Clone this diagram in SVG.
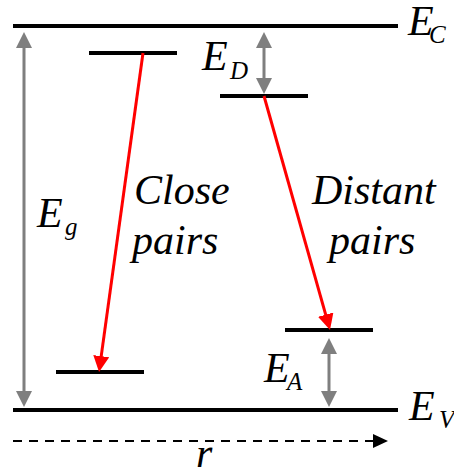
<svg xmlns="http://www.w3.org/2000/svg" width="454" height="470" viewBox="0 0 454 470">
<defs>
<marker id="ga" markerUnits="userSpaceOnUse" markerWidth="16" markerHeight="16" refX="6" refY="8" orient="auto-start-reverse">
<path d="M0,0 L16,8 L0,16 z" fill="#7f7f7f"/>
</marker>
<marker id="ra" markerUnits="userSpaceOnUse" markerWidth="16" markerHeight="16" refX="6" refY="8" orient="auto">
<path d="M0,0 L16,8 L0,16 z" fill="#ff0000"/>
</marker>
</defs>
<g id="levels" stroke="#000" stroke-width="4">
<g id="Ec"><line x1="13" y1="26" x2="398" y2="26"/></g>
<g id="Ev"><line x1="13" y1="410" x2="398" y2="410"/></g>
<g id="donor-close"><line x1="89" y1="53" x2="177" y2="53"/></g>
<g id="donor-distant"><line x1="220" y1="96" x2="308" y2="96"/></g>
<g id="acceptor-close"><line x1="56" y1="372" x2="144" y2="372"/></g>
<g id="acceptor-distant"><line x1="285" y1="330" x2="373" y2="330"/></g>
</g>
<g id="connectors" fill="none">
<g stroke="#7f7f7f" stroke-width="3" marker-start="url(#ga)" marker-end="url(#ga)">
<line x1="24" y1="42" x2="24" y2="397"/>
<line x1="264" y1="42" x2="264" y2="84"/>
<line x1="329" y1="348" x2="329" y2="397"/>
</g>
<g stroke="#ff0000" stroke-width="3" marker-end="url(#ra)">
<line x1="143" y1="53" x2="100.4" y2="362.1"/>
<line x1="264" y1="96" x2="327.3" y2="320.4"/>
</g>
<line x1="13" y1="441" x2="374" y2="441" stroke="#000" stroke-width="2" stroke-dasharray="9,7"/>
<path d="M373,434 L388,441 L373,448 z" fill="#000"/>
</g>
<g id="labels" fill="#000">
<g id="EC-label"><text x="408" y="35" font-family="Liberation Serif" font-style="italic" font-size="42">E</text><text x="429" y="43" font-family="Liberation Serif" font-style="italic" font-size="25">C</text></g>
<g id="EV-label"><text x="409" y="420" font-family="Liberation Serif" font-style="italic" font-size="42">E</text><text x="439" y="428" font-family="Liberation Serif" font-style="italic" font-size="25">V</text></g>
<g id="Eg"><text x="37" y="227" font-family="Liberation Serif" font-style="italic" font-size="42">E</text><text x="65" y="235" font-family="Liberation Serif" font-style="italic" font-size="25">g</text></g>
<g id="ED"><text x="202" y="70" font-family="Liberation Serif" font-style="italic" font-size="42">E</text><text x="230" y="79" font-family="Liberation Serif" font-style="italic" font-size="25">D</text></g>
<g id="EA"><text x="264" y="382" font-family="Liberation Serif" font-style="italic" font-size="42">E</text><text x="287" y="390" font-family="Liberation Serif" font-style="italic" font-size="25">A</text></g>
<text x="134" y="204" font-family="Liberation Serif" font-style="italic" font-size="42">Close</text>
<text x="132" y="254" font-family="Liberation Serif" font-style="italic" font-size="42">pairs</text>
<text x="312" y="204" font-family="Liberation Serif" font-style="italic" font-size="42">Distant</text>
<text x="329" y="254" font-family="Liberation Serif" font-style="italic" font-size="42">pairs</text>
<text x="196" y="467" font-family="Liberation Serif" font-style="italic" font-size="42">r</text>
</g>
</svg>
